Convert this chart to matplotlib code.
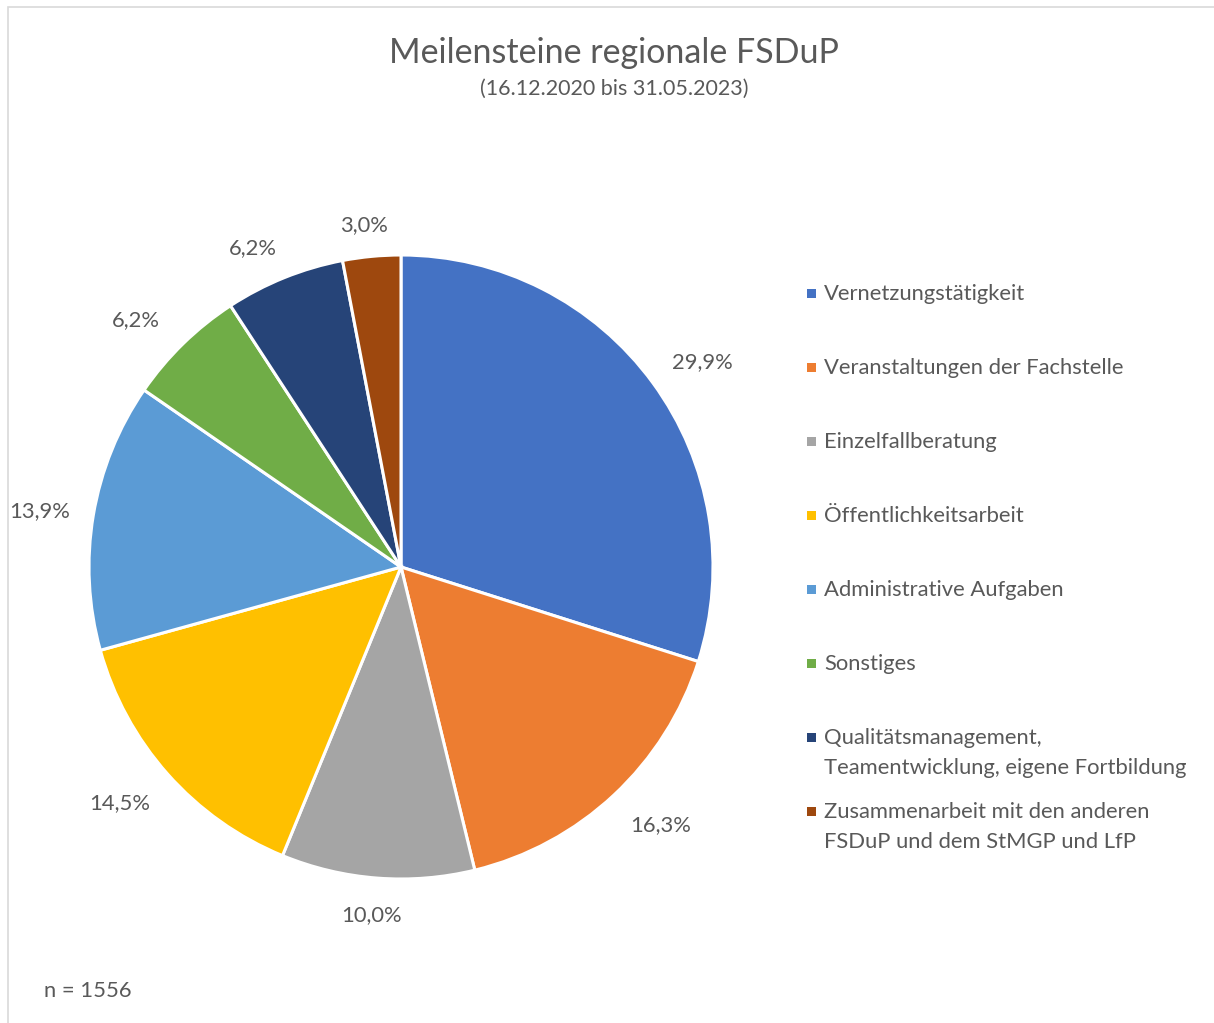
import matplotlib.pyplot as plt
import numpy as np
from matplotlib.patches import Rectangle

plt.rcParams['font.family'] = ['Lato', 'DejaVu Sans']

# Daten
kategorien = ['Vernetzungstätigkeit', 'Veranstaltungen der Fachstelle', 'Einzelfallberatung',
              'Öffentlichkeitsarbeit', 'Administrative Aufgaben', 'Sonstiges',
              'Qualitätsmanagement,\nTeamentwicklung, eigene Fortbildung',
              'Zusammenarbeit mit den anderen\nFSDuP und dem StMGP und LfP']
anteile = [29.9, 16.3, 10.0, 14.5, 13.9, 6.2, 6.2, 3.0]
farben = ['#4472C4', '#ED7D31', '#A5A5A5', '#FFC000', '#5B9BD5', '#70AD47', '#264478', '#9E480E']
n_gesamt = 1556

W, H = 1214, 1023
fig = plt.figure(figsize=(W / 100, H / 100), dpi=100)
txt = '#595959'
fs = 15.8

# Rahmen
fig.patches.append(Rectangle((8 / W, -0.1), 1.2, (H - 7) / H + 0.1, transform=fig.transFigure,
                             fill=False, edgecolor='#D9D9D9', linewidth=1.2))

cx, cy, r = 401, H - 567, 312
ax = fig.add_axes([(cx - r) / W, (cy - r) / H, 2 * r / W, 2 * r / H])
wedges, _ = ax.pie(anteile, colors=farben, startangle=90, counterclock=False,
                   wedgeprops=dict(edgecolor='white', linewidth=2.2))
ax.set_xlim(-1, 1)
ax.set_ylim(-1, 1)
ax.set_aspect('equal')
ax.axis('off')

# Prozentbeschriftungen außerhalb
for w, v in zip(wedges, anteile):
    ang = np.deg2rad((w.theta1 + w.theta2) / 2)
    c, s = np.cos(ang), np.sin(ang)
    px = (r + 25) * c + 29.5 * np.clip(2 * c, -1, 1)
    py = (r + 25) * s + 9 * np.clip(2 * s, -1, 1) - 3
    ax.text(px / r, py / r, f'{v:.1f}%'.replace('.', ','), ha='center', va='center',
            fontsize=fs, color=txt, clip_on=False)

# Titel
fig.text(614 / W, 1 - 53 / H, 'Meilensteine regionale FSDuP', ha='center', va='center',
         fontsize=24.5, color=txt)
fig.text(614 / W, 1 - 89 / H, '(16.12.2020 bis 31.05.2023)', ha='center', va='center',
         fontsize=15.5, color=txt)

# Legende
for i, (lab, col) in enumerate(zip(kategorien, farben)):
    y = 293 + i * 74
    fig.patches.append(Rectangle((807 / W, 1 - (y + 5) / H), 9 / W, 9 / H,
                                 transform=fig.transFigure, facecolor=col, edgecolor='none'))
    fig.text(824 / W, 1 - (y - 9) / H, lab, ha='left', va='top', fontsize=fs,
             color=txt, linespacing=1.6)

fig.text(44 / W, 1 - 991 / H, f'n = {n_gesamt}', ha='left', va='center', fontsize=fs, color=txt)

plt.savefig('out.png', dpi=100)
